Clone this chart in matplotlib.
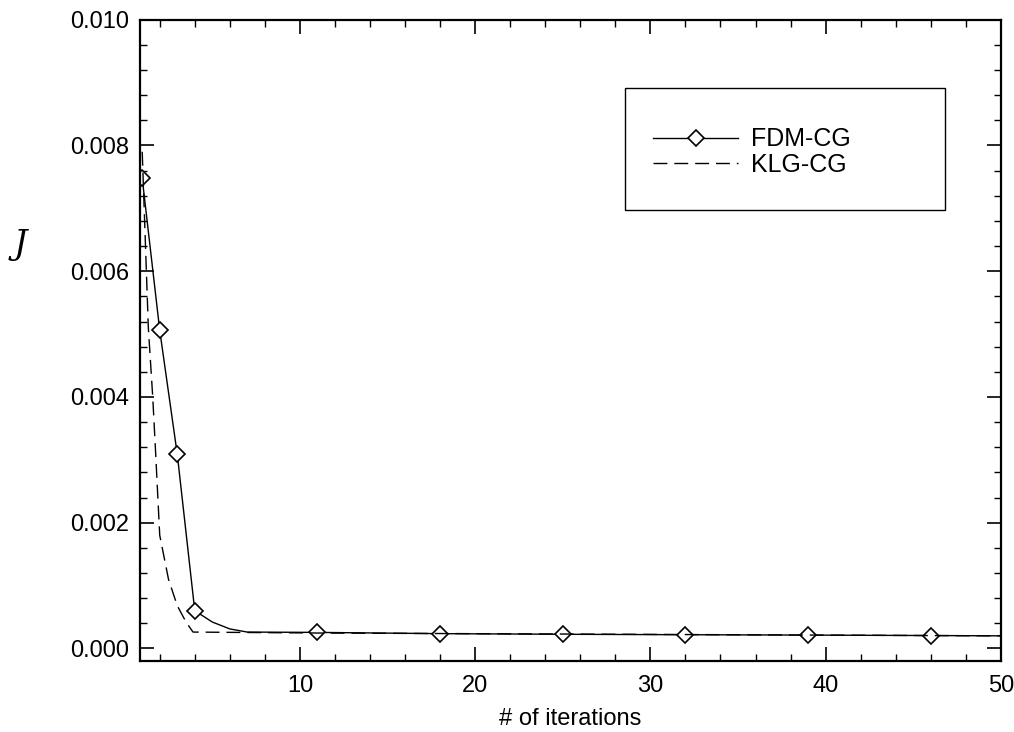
import matplotlib.pyplot as plt
from matplotlib.ticker import MultipleLocator, FormatStrFormatter
from matplotlib.patches import Rectangle

plt.rcParams['font.family'] = ['Liberation Sans', 'DejaVu Sans']

# FDM-CG (solid, diamonds)
fdm_x = [1, 2, 3, 4, 5, 6, 7, 11, 18, 25, 32, 39, 46, 50]
fdm_y = [0.00748, 0.00506, 0.00309, 0.00060, 0.00042, 0.00031, 0.00026,
         0.000255, 0.000235, 0.000225, 0.000218, 0.000212, 0.000205, 0.000200]
fdm_marks = [0, 1, 2, 3, 7, 8, 9, 10, 11, 12]

# KLG-CG (dashed)
klg_x = [1, 1.35, 1.6, 1.75, 2, 2.5, 3, 3.5, 3.9, 11, 50]
klg_y = [0.0079, 0.0051, 0.0040, 0.0032, 0.0018, 0.0011, 0.00068, 0.00042,
         0.00026, 0.000245, 0.000200]

fig = plt.figure(figsize=(10.14, 7.32), dpi=100)
ax = fig.add_axes([0.138, 0.097, 0.849, 0.876])

ax.plot(fdm_x, fdm_y, color='black', lw=1.0, marker='D', markersize=8,
        markerfacecolor='white', markeredgecolor='black', markeredgewidth=1.2,
        markevery=fdm_marks, label='FDM-CG')
ax.plot(klg_x, klg_y, color='black', lw=1.0, linestyle=(0, (10, 5)),
        label='KLG-CG')

ax.set_xlim(0.87, 50)
ax.set_ylim(-0.0002, 0.010)
ax.set_xticks([10, 20, 30, 40, 50])
ax.xaxis.set_minor_locator(MultipleLocator(2))
ax.yaxis.set_major_locator(MultipleLocator(0.002))
ax.yaxis.set_minor_locator(MultipleLocator(0.0004))
ax.yaxis.set_major_formatter(FormatStrFormatter('%.3f'))

ax.tick_params(which='both', direction='in', top=True, right=True, labelsize=17)
ax.tick_params(which='major', length=10, width=1.2)
ax.tick_params(which='minor', length=5, width=1.0)
ax.tick_params(axis='y', pad=8)
ax.tick_params(axis='x', pad=10)
for s in ax.spines.values():
    s.set_linewidth(1.6)

ax.set_xlabel('# of iterations', fontsize=17, labelpad=8)
fig.text(0.02, 0.665, 'J', fontsize=24, fontstyle='italic',
         family='DejaVu Serif', ha='center', va='center')

# legend box drawn separately to get the wide empty frame
ax.add_patch(Rectangle((0.563, 0.704), 0.372, 0.19, transform=ax.transAxes,
                       facecolor='white', edgecolor='black', lw=1.0, zorder=3))
leg = ax.legend(loc='upper left', bbox_to_anchor=(0.596, 0.832),
                frameon=False, fontsize=18, handlelength=3.4,
                handletextpad=0.5, labelspacing=0.05, borderpad=0,
                borderaxespad=0)
leg.set_zorder(4)

fig.savefig('out.png', dpi=100)
